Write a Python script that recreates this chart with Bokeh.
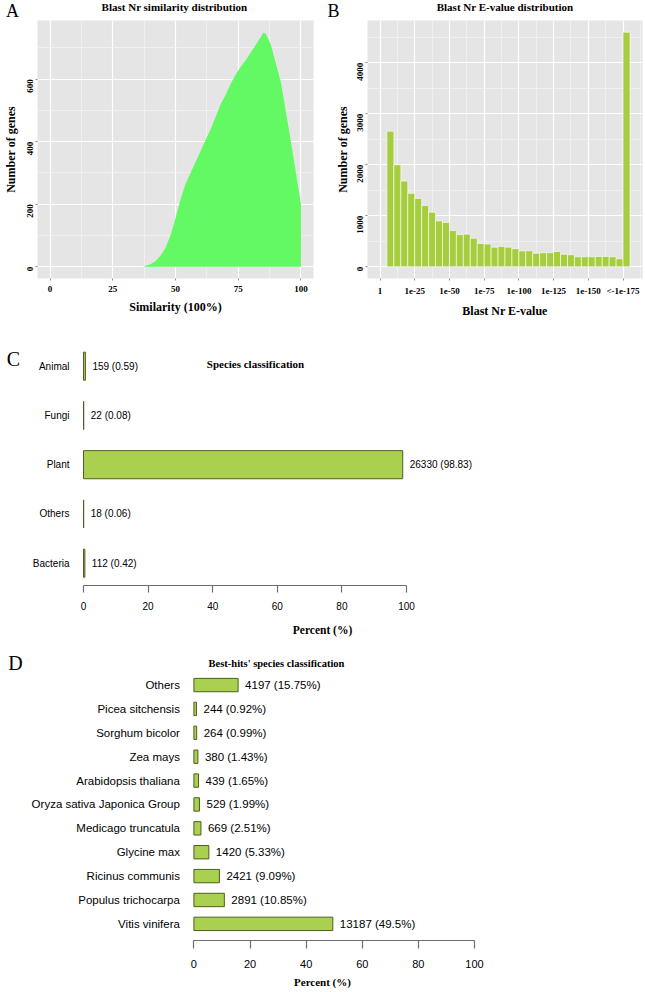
import math
from bokeh.plotting import figure
from bokeh.models import Label, Range1d, FixedTicker
from bokeh.layouts import column, row
from bokeh.embed import file_html
from bokeh.resources import INLINE
from bokeh.core.properties import value

SERIF = "Liberation Serif"
SANS = "Liberation Sans"

# ---------------- Panel A data: similarity distribution ----------------
sim_x = [37, 40, 42, 44, 46, 48, 50, 52, 54, 56, 58, 60, 62, 64, 66, 68, 70,
         72, 74, 76, 78, 80, 82, 84, 85, 86, 88, 90, 92, 94, 96, 98, 100]
sim_counts = [0, 8, 18, 35, 60, 100, 155, 215, 265, 300, 335, 370, 405, 440,
              480, 520, 550, 585, 615, 640, 660, 685, 710, 735, 748, 745, 710,
              650, 590, 495, 400, 300, 200]
sim_ticks = [0, 25, 50, 75, 100]
sim_yticks = [0, 200, 400, 600]

# ---------------- Panel B data: E-value distribution ----------------
ev_bin_start = [5, 10, 15, 20, 25, 30, 35, 40, 45, 50, 55, 60, 65, 70, 75, 80,
                85, 90, 95, 100, 105, 110, 115, 120, 125, 130, 135, 140, 145,
                150, 155, 160, 165, 170, 175]
ev_counts = [2660, 2000, 1680, 1440, 1340, 1200, 1070, 900, 870, 710, 630, 640,
             560, 455, 445, 385, 400, 385, 355, 310, 315, 265, 275, 275, 300,
             245, 235, 195, 195, 195, 200, 200, 195, 155, 4600]
ev_bin_width = 5
ev_tick_pos = [0, 25, 50, 75, 100, 125, 150, 175]
ev_tick_labels = ["1", "1e-25", "1e-50", "1e-75", "1e-100", "1e-125",
                  "1e-150", "<-1e-175"]
ev_yticks = [0, 1000, 2000, 3000, 4000]

# ---------------- Panel C data: species classification ----------------
sp_cats = ["Animal", "Fungi", "Plant", "Others", "Bacteria"]
sp_counts = [159, 22, 26330, 18, 112]
sp_pct = [0.59, 0.08, 98.83, 0.06, 0.42]

# ---------------- Panel D data: best-hits species ----------------
bh_cats = ["Others", "Picea sitchensis", "Sorghum bicolor", "Zea mays",
           "Arabidopsis thaliana", "Oryza sativa Japonica Group",
           "Medicago truncatula", "Glycine max", "Ricinus communis",
           "Populus trichocarpa", "Vitis vinifera"]
bh_counts = [4197, 244, 264, 380, 439, 529, 669, 1420, 2421, 2891, 13187]
bh_pct = [15.75, 0.92, 0.99, 1.43, 1.65, 1.99, 2.51, 5.33, 9.09, 10.85, 49.5]

pct_ticks = [0, 20, 40, 60, 80, 100]

panel_letters = ["A", "B"]
panel_titles = ["Blast Nr similarity distribution", "Blast Nr E-value distribution"]

BG = "#E5E5E5"
MINOR = "#F2F2F2"
BAR = "#A9D04E"
BAR_EDGE = "#4F5E22"

# ---------------- layout geometry (pixels) ----------------
W = 644
HEAD_H = 20
A_W, A_L, A_R = 320, 35, 7
B_W, B_L, B_R = W - 320, 47, 2
ROW_H, ROW_B = 300, 33


def midpoints(ticks):
    step = ticks[1] - ticks[0]
    return [t + step / 2 for t in ticks] + [ticks[0] - step / 2]


def gg_style(p, xticks, yticks):
    p.background_fill_color = BG
    p.border_fill_color = "white"
    p.outline_line_color = None
    p.xaxis.ticker = FixedTicker(ticks=xticks, minor_ticks=midpoints(xticks))
    p.yaxis.ticker = FixedTicker(ticks=yticks, minor_ticks=midpoints(yticks))
    for g in (p.xgrid[0], p.ygrid[0]):
        g.grid_line_color = "white"
        g.grid_line_width = 1.2
        g.minor_grid_line_color = MINOR
        g.minor_grid_line_width = 0.8
    for ax in (p.xaxis[0], p.yaxis[0]):
        ax.axis_line_color = None
        ax.major_tick_line_color = "#8A8A8A"
        ax.major_tick_out = 2
        ax.major_tick_in = 0
        ax.minor_tick_line_color = None
        ax.major_label_text_font = SERIF
        ax.major_label_text_font_style = "bold"
        ax.major_label_text_font_size = "9px"
        ax.major_label_text_color = "black"
        ax.major_label_standoff = 3
        ax.axis_label_text_font = SERIF
        ax.axis_label_text_font_style = "bold"
        ax.axis_label_text_font_size = "12px"
        ax.axis_label_text_color = "black"
    p.yaxis.major_label_orientation = math.pi / 2
    p.xaxis.axis_label_standoff = 5
    p.yaxis.axis_label_standoff = 4


def add_label(p, text, sx, sy, size, style="bold", font=SERIF, align="center"):
    p.add_layout(Label(x=sx, y=sy, x_units="screen", y_units="screen",
                       text=text, text_font=font, text_font_size=size,
                       text_font_style=style, text_align=align,
                       text_baseline="middle", text_color="black"))


# ---------------- Header strip (panel letters + titles of A, B) ----------------
pH = figure(width=W, height=HEAD_H, output_backend="svg", toolbar_location=None,
            x_range=Range1d(0, W), y_range=Range1d(HEAD_H, 0),
            x_axis_type=None, y_axis_type=None,
            min_border_left=0, min_border_right=0, min_border_top=0,
            min_border_bottom=0)
pH.outline_line_color = None
pH.grid.visible = False
frame_centers = [A_L + (A_W - A_L - A_R) / 2,
                 A_W + B_L + (B_W - B_L - B_R) / 2]
letter_x = [12, A_W + 13]
pH.text(x=letter_x, y=[10, 10], text=panel_letters, text_align="center",
        text_baseline="middle", text_font=value(SERIF), text_font_size="18px",
        text_color="black")
pH.text(x=frame_centers, y=[6, 6], text=panel_titles, text_align="center",
        text_baseline="middle", text_font=value(SERIF), text_font_size="11px",
        text_font_style="bold", text_color="black")

# ---------------- Figure A ----------------
pA = figure(width=A_W, height=ROW_H, output_backend="svg", toolbar_location=None,
            x_range=Range1d(-5, 105), y_range=Range1d(-37.5, 787.5),
            min_border_left=A_L, min_border_right=A_R, min_border_top=0,
            min_border_bottom=ROW_B)
gg_style(pA, sim_ticks, sim_yticks)
pA.varea(x=sim_x, y1=0, y2=sim_counts, fill_color="#62F962")
pA.xaxis.axis_label = "Similarity (100%)"
pA.yaxis.axis_label = "Number of genes"

# ---------------- Figure B ----------------
pB = figure(width=B_W, height=ROW_H, output_backend="svg", toolbar_location=None,
            x_range=Range1d(-9, 189), y_range=Range1d(-230, 4830),
            min_border_left=B_L, min_border_right=B_R, min_border_top=0,
            min_border_bottom=ROW_B)
gg_style(pB, ev_tick_pos, ev_yticks)
pB.xaxis.major_label_overrides = dict(zip(ev_tick_pos, ev_tick_labels))
pB.quad(left=ev_bin_start, right=[s + ev_bin_width for s in ev_bin_start],
        bottom=0, top=ev_counts, fill_color="#A5CD3D", line_color="white",
        line_width=0.6)
pB.xaxis.axis_label = "Blast Nr E-value"
pB.yaxis.axis_label = "Number of genes"
pB.yaxis.axis_label_standoff = 2


def base_bar_style(p, tick_size, tick_out, label_standoff, axis_standoff,
                   axis_size):
    p.background_fill_color = "white"
    p.outline_line_color = None
    p.xgrid.visible = False
    p.ygrid.visible = False
    p.yaxis.visible = False
    ax = p.xaxis[0]
    ax.ticker = FixedTicker(ticks=pct_ticks)
    ax.bounds = (pct_ticks[0], pct_ticks[-1])
    ax.axis_line_color = "#6E6E6E"
    ax.axis_line_width = 1.2
    ax.major_tick_line_color = "#6E6E6E"
    ax.major_tick_line_width = 1.2
    ax.major_tick_out = tick_out
    ax.major_tick_in = 0
    ax.minor_tick_line_color = None
    ax.major_label_text_font = SANS
    ax.major_label_text_font_size = tick_size
    ax.major_label_text_color = "black"
    ax.major_label_standoff = label_standoff
    ax.axis_label = "Percent (%)"
    ax.axis_label_text_font = SERIF
    ax.axis_label_text_font_style = "bold"
    ax.axis_label_text_font_size = axis_size
    ax.axis_label_text_color = "black"
    ax.axis_label_standoff = axis_standoff


# ---------------- Figure C ----------------
C_H, C_B = 320, 55
C_PX = 3.23            # pixels per percent
C_ZERO = 83            # pixel position of 0 %
C_SPACING = 49.25      # pixels between categories
C_FH = C_H - C_B
sp_pos = [len(sp_cats) - 1 - i for i in range(len(sp_cats))]
sp_text = [f"{c} ({v})" for c, v in zip(sp_counts, sp_pct)]
c_start = -22.3 / C_SPACING
pC = figure(width=W, height=C_H, output_backend="svg", toolbar_location=None,
            x_range=Range1d(-C_ZERO / C_PX, (W - C_ZERO) / C_PX),
            y_range=Range1d(c_start, c_start + C_FH / C_SPACING),
            min_border_left=0, min_border_right=0, min_border_top=0,
            min_border_bottom=C_B)
base_bar_style(pC, "10px", 7, 9, 11, "11.5px")
pC.hbar(y=sp_pos, left=0, right=sp_pct, height=0.57, fill_color=BAR,
        line_color=BAR_EDGE, line_width=1)
pC.text(x=[0] * len(sp_cats), y=sp_pos, text=sp_cats, x_offset=-14,
        text_baseline="middle", text_align="right", text_font=value(SANS),
        text_font_size="10px", text_color="black")
pC.text(x=sp_pct, y=sp_pos, text=sp_text, x_offset=7, text_baseline="middle",
        text_align="left", text_font=value(SANS), text_font_size="10px",
        text_color="black")
add_label(pC, "Species classification", 255, C_FH - 43, "11px")
add_label(pC, "C", 13, C_FH - 38, "20px", style="normal")

# ---------------- Figure D ----------------
D_H, D_B = 350, 49
D_PX = 2.806
D_ZERO = 193.4
D_SPACING = 23.96
D_FH = D_H - D_B
bh_pos = [len(bh_cats) - 1 - i for i in range(len(bh_cats))]
bh_text = [f"{c} ({v}%)" for c, v in zip(bh_counts, bh_pct)]
d_start = -16.7 / D_SPACING
pD = figure(width=W, height=D_H, output_backend="svg", toolbar_location=None,
            x_range=Range1d(-D_ZERO / D_PX, (W - D_ZERO) / D_PX),
            y_range=Range1d(d_start, d_start + D_FH / D_SPACING),
            min_border_left=0, min_border_right=0, min_border_top=0,
            min_border_bottom=D_B)
base_bar_style(pD, "11px", 8, 11, 5, "11px")
pD.hbar(y=bh_pos, left=0, right=bh_pct, height=0.56, fill_color=BAR,
        line_color=BAR_EDGE, line_width=1)
pD.text(x=[0] * len(bh_cats), y=bh_pos, text=bh_cats, x_offset=-14,
        text_baseline="middle", text_align="right", text_font=value(SANS),
        text_font_size="11.5px", text_color="black")
pD.text(x=bh_pct, y=bh_pos, text=bh_text, x_offset=7, text_baseline="middle",
        text_align="left", text_font=value(SANS), text_font_size="11.5px",
        text_color="black")
add_label(pD, "Best-hits' species classification", 276, D_FH - 24, "10.5px")
add_label(pD, "D", 15, D_FH - 23, "20px", style="normal")

layout = column(pH, row(pA, pB), pC, pD)
open("out.html", "w").write(file_html(layout, INLINE))
